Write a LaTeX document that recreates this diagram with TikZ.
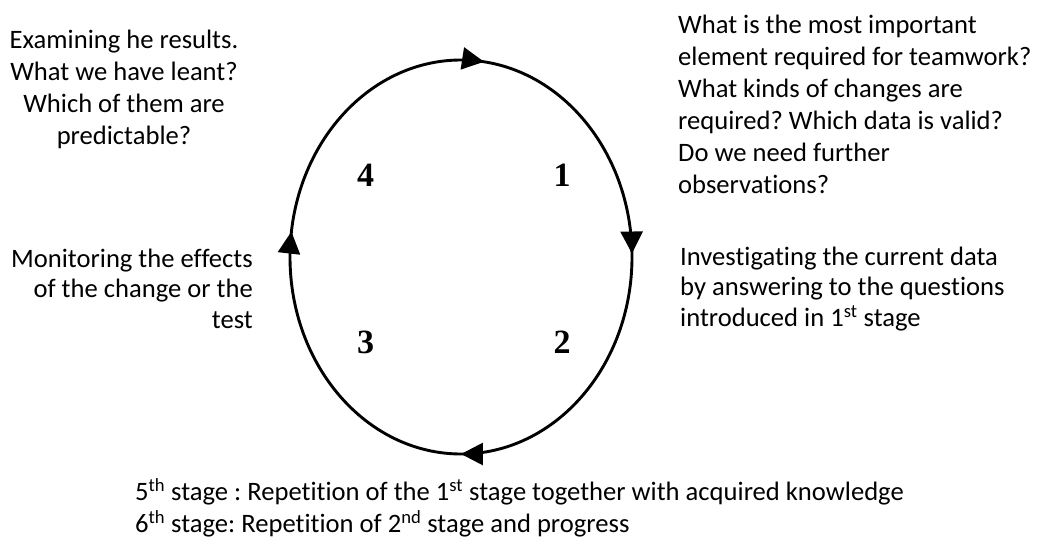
\documentclass[tikz,border=0pt]{standalone}
\usepackage{fontspec}
\setmainfont[Ligatures=NoCommon]{Carlito}
\newfontfamily\numfont{Liberation Serif}
\usetikzlibrary{arrows.meta,decorations.markings}
\tikzset{cyctip/.tip={Triangle[length=22pt,width=22pt]}}
\frenchspacing
\begin{document}
\begin{tikzpicture}[x=1pt,y=-1pt,
  txt/.style={inner sep=0pt, font=\fontsize{26.6}{32}\selectfont},
  txtb/.style={inner sep=0pt, font=\fontsize{26.6}{30.5}\selectfont},
  txtc/.style={inner sep=0pt, font=\fontsize{26.6}{29.5}\selectfont},
  num/.style={inner sep=0pt, font=\numfont\bfseries\fontsize{34}{38}\selectfont},
  cyclepath/.style={line width=2.9pt, postaction={decorate},
    decoration={markings,
      mark=at position 0.02 with {\arrow{cyctip}},
      mark=at position 0.247 with {\arrow{cyctip}},
      mark=at position 0.5 with {\arrow{cyctip}},
      mark=at position 0.772 with {\arrow{cyctip}}}}]
\useasboundingbox (0,0) rectangle (1037,538);
\coordinate (top) at (461,60);
\draw[cyclepath] (top) arc[start angle=-90, end angle=270, x radius=171, y radius=197];
\node[num] (n4) at (365.5,175) {4};
\node[num] (n1) at (562,175) {1};
\node[num] (n3) at (365.5,342) {3};
\node[num] (n2) at (562,342) {2};
\node[txt, anchor=north, align=center] (t4) at (124,25.6)
  {\strut Examining he results.\\What we have leant?\\Which of them are\\predictable?};
\node[txt, anchor=north west, align=left] (t1) at (678,10.6)
  {\strut What is the most important\\element required for teamwork?\\What kinds of changes are\\required? Which data is valid?\\Do we need further\\observations?};
\node[txtb, anchor=north east, align=right] (t3) at (253,245.6)
  {\strut Monitoring the effects\\of the change or the\\test};
\node[txtb, anchor=north west, align=left] (t2) at (680,243.6)
  {\strut Investigating the current data\\by answering to the questions\\introduced in 1\textsuperscript{st} stage};
\node[txtc, anchor=north west, align=left] (t5) at (135,478.4)
  {\strut 5\textsuperscript{th} stage : Repetition of the 1\textsuperscript{st} stage together with acquired knowledge\\6\textsuperscript{th} stage: Repetition of 2\textsuperscript{nd} stage and progress};
\end{tikzpicture}
\end{document}
